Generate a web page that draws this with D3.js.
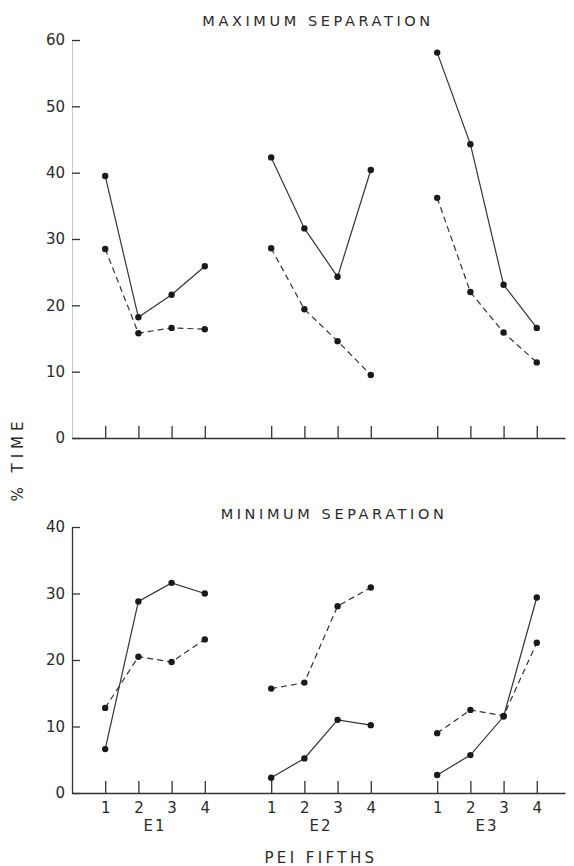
<!DOCTYPE html>
<html lang="en">
<head>
    <meta charset="UTF-8">
    <title>% Time by PEI fifths</title>
    <script src="https://cdn.jsdelivr.net/npm/d3@7"></script>
    <style>
        body { margin: 0; background: #fff; }
        text { font-family: "DejaVu Sans", sans-serif; fill: #2a2a2a; }
        .label { font-size: 14.5px; letter-spacing: 3.6px; }
        .tick text { font-size: 15px; fill: #2a2a2a; }
    </style>
</head>
<body>
    <svg width=574 height=866></svg>

<script>
    // fifths within each E group, group names
    var groups = ['E1', 'E2', 'E3']
    var fifths = [1, 2, 3, 4]

    // maximum separation, % time (solid and dashed curves)
    var maxSolid  = [[39.5, 18.2, 21.6, 25.9], [42.3, 31.6, 24.3, 40.4], [58.1, 44.3, 23.1, 16.6]]
    var maxDashed = [[28.5, 15.8, 16.6, 16.4], [28.6, 19.4, 14.6, 9.5], [36.2, 22.0, 15.9, 11.4]]

    // minimum separation, % time
    var minSolid  = [[6.6, 28.8, 31.6, 30.0], [2.3, 5.2, 11.0, 10.2], [2.7, 5.7, 11.5, 29.4]]
    var minDashed = [[12.8, 20.5, 19.7, 23.1], [15.7, 16.6, 28.1, 30.9], [9.0, 12.5, 11.6, 22.6]]

    var maxTicks = [0, 10, 20, 30, 40, 50, 60]
    var minTicks = [0, 10, 20, 30, 40]

    var svg = d3.select('svg')

    // slot position of each fifth: 1-4, 6-9, 11-14
    function pos(g, f) { return g * 5 + f }
    var slots = []
    groups.forEach((g, gi) => fifths.forEach(f => slots.push(pos(gi, f))))

    var x = d3.scaleLinear().domain([0, 14.85]).range([72, 565])

    var yTop = d3.scaleLinear().domain([0, 60]).range([438, 40])
    var yBot = d3.scaleLinear().domain([0, 40]).range([793, 527])

    function panel(y, ticks, solid, dashed, showLabels, faintAxis) {
        var ya = svg.append('g')
            .attr('transform', `translate(${x(0)},0)`)
            .call(d3.axisLeft(y).tickValues(ticks).tickSize(-8).tickPadding(7).tickSizeOuter(0))
        ya.selectAll('.tick line').attr('stroke', '#333').attr('stroke-width', 1.3)
        ya.select('.domain')
            .attr('stroke', faintAxis ? '#c8c8c8' : '#333')
            .attr('stroke-width', faintAxis ? 1 : 1.3)

        var xa = svg.append('g')
            .attr('transform', `translate(0,${y(0)})`)
            .call(d3.axisBottom(x).tickValues(slots).tickSize(-12).tickPadding(9).tickSizeOuter(0)
                .tickFormat(d => showLabels ? (d % 5) : ''))
        xa.selectAll('.tick line').attr('stroke', '#333').attr('stroke-width', 1.3)
        xa.select('.domain').attr('stroke', '#333').attr('stroke-width', 1.6)

        var line = d3.line().x(d => x(d.p)).y(d => y(d.v))

        ;[[solid, null], [dashed, '6,4']].forEach(([series, dash]) => {
            series.forEach((vals, gi) => {
                var pts = vals.map((v, i) => ({ p: pos(gi, fifths[i]), v: v }))
                svg.append('path')
                    .datum(pts)
                    .attr('d', line)
                    .attr('fill', 'none')
                    .attr('stroke', '#333')
                    .attr('stroke-width', 1.2)
                    .attr('stroke-dasharray', dash)
                svg.append('g').selectAll('circle')
                    .data(pts)
                    .join('circle')
                    .attr('cx', d => x(d.p))
                    .attr('cy', d => y(d.v))
                    .attr('r', 3.2)
                    .attr('fill', '#1a1a1a')
            })
        })
    }

    panel(yTop, maxTicks, maxSolid, maxDashed, false, true)
    panel(yBot, minTicks, minSolid, minDashed, true, false)

    svg.append('text')
        .attr('class', 'label')
        .attr('text-anchor', 'middle')
        .attr('x', 318).attr('y', 26)
        .text('MAXIMUM SEPARATION')

    svg.append('text')
        .attr('class', 'label')
        .attr('text-anchor', 'middle')
        .attr('x', 334).attr('y', 519)
        .text('MINIMUM SEPARATION')

    groups.forEach((g, gi) => {
        svg.append('text')
            .attr('class', 'label')
            .attr('text-anchor', 'middle')
            .attr('x', x(pos(gi, 2.5)))
            .attr('y', 831)
            .style('font-size', '15px')
            .style('letter-spacing', '2px')
            .text(g)
    })

    svg.append('text')
        .attr('class', 'label')
        .attr('text-anchor', 'middle')
        .attr('x', x(7.5)).attr('y', 863)
        .style('font-size', '15px')
        .style('letter-spacing', '3.4px')
        .text('PEI  FIFTHS')

    svg.append('text')
        .attr('class', 'label')
        .attr('text-anchor', 'middle')
        .attr('transform', 'translate(23,459) rotate(-90)')
        .style('font-size', '15px')
        .style('letter-spacing', '5px')
        .text('% TIME')
</script>
</body>
</html>
